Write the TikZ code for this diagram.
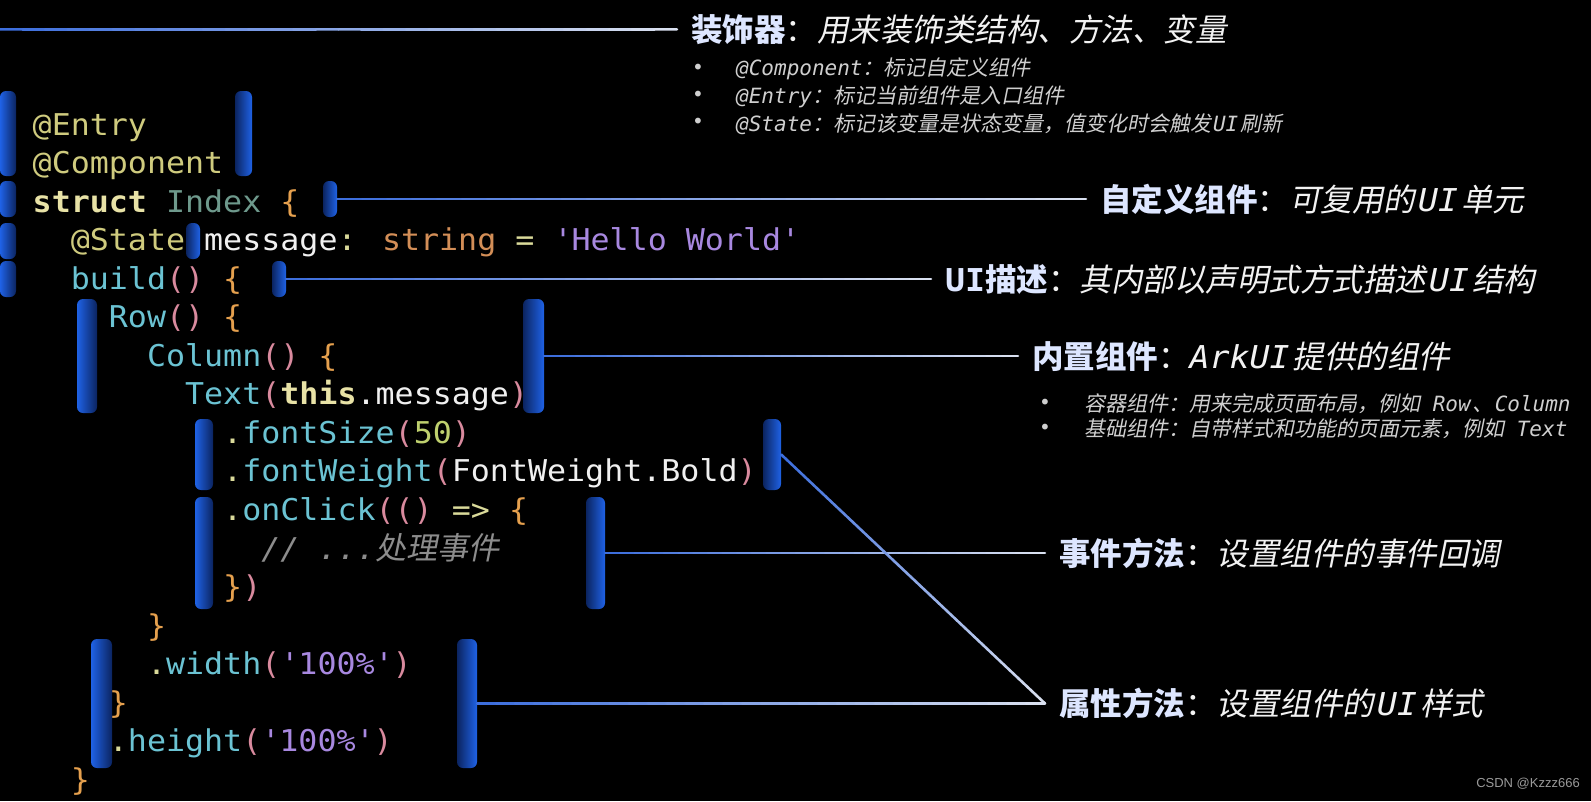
\documentclass[tikz,border=0pt]{standalone}
\usepackage{fontspec}
\usetikzlibrary{calc}
\newfontfamily\codefont{DejaVu Sans Mono}[FakeStretch=1.055]
\newfontfamily\subfont{DejaVu Sans Mono}
\newfontfamily\cjk{Noto Sans CJK SC}
\newfontfamily\cjksl{Noto Sans CJK SC}[FakeSlant=0.2]
\newfontfamily\wmfont{Liberation Sans}
\newfontfamily\dotfont{DejaVu Sans}
\definecolor{cdeco}{HTML}{CFCB7E}
\definecolor{ckey}{HTML}{E8E2A6}
\definecolor{ctype}{HTML}{6E998C}
\definecolor{cbrace}{HTML}{E5A04E}
\definecolor{cparen}{HTML}{D98A9E}
\definecolor{cfunc}{HTML}{6BC3D3}
\definecolor{cstr}{HTML}{A888E0}
\definecolor{cstrtype}{HTML}{D38E57}
\definecolor{cnum}{HTML}{BFD06E}
\definecolor{cplain}{HTML}{F0F0F0}
\definecolor{cop}{HTML}{DADA9A}
\definecolor{ccomment}{HTML}{8C8C8C}
\definecolor{barB}{HTML}{1F62E6}
\definecolor{barD}{HTML}{0B2460}
\definecolor{lnB}{HTML}{3A6CDC}
\definecolor{lnL}{HTML}{DCE2F0}
\definecolor{lblB}{HTML}{DDE6FF}
\definecolor{lblW}{HTML}{F2F2F2}
\definecolor{subgray}{HTML}{CFCFCF}
\definecolor{wmgray}{HTML}{9A9A9A}
\newcommand\q{\textquotesingle}
\newcommand\gradconn[2]{%
  \foreach \k in {0,...,29}{%
    \pgfmathsetmacro\pa{\k/30}%
    \pgfmathsetmacro\pb{(\k+1)/30}%
    \pgfmathsetmacro\pc{100*(\k+0.5)/30}%
    \draw[conn, color=lnL!\pc!lnB] ($#1!\pa!#2$) -- ($#1!\pb!#2$);
  }}
\newcommand\codeln[4]{\node[code] (#1) at ({32.5+19.05*#2},{135+38.55*#3}) {#4};}
\tikzset{
  code/.style={anchor=base west, inner sep=0pt, font=\codefont\fontsize{30}{36}\selectfont},
  lbar/.style={rectangle, rounded corners=6pt, left color=barB, right color=barD, inner sep=0pt},
  rbar/.style={rectangle, rounded corners=6pt, left color=barD, right color=barB, inner sep=0pt},
  lbl/.style={anchor=west, inner xsep=14pt, inner ysep=0pt, font=\fontsize{31.5}{36}\selectfont},
  sub/.style={anchor=west, inner sep=0pt, font=\fontsize{21}{25}\selectfont, text=subgray},
  bul/.style={inner sep=0pt, font=\dotfont\fontsize{20}{22}\selectfont, text=subgray},
  conn/.style={line width=2.6pt, line cap=round},
}
\begin{document}
\begin{tikzpicture}[x=1pt, y=-1pt]
\fill[black] (0,0) rectangle (1591,801);
\useasboundingbox (0,0) rectangle (1591,801);

% code
\codeln{c0}{0}{0}{\color{cdeco}@Entry}
\codeln{c1}{0}{1}{\color{cdeco}@Component}
\codeln{c2}{0}{2}{{\bfseries\color{ckey}struct} \color{ctype}Index \color{cbrace}\{}
\codeln{c3}{2}{3}{\color{cdeco}@State \color{cplain}message\color{cop}: \color{cstrtype}string \color{cop}= \color{cstr}\q Hello World\q}
\codeln{c4}{2}{4}{\color{cfunc}build\color{cparen}() \color{cbrace}\{}
\codeln{c5}{4}{5}{\color{cfunc}Row\color{cparen}() \color{cbrace}\{}
\codeln{c6}{6}{6}{\color{cfunc}Column\color{cparen}() \color{cbrace}\{}
\codeln{c7}{8}{7}{\color{cfunc}Text\color{cparen}({\bfseries\color{ckey}this}\color{cplain}.message\color{cparen})}
\codeln{c8}{10}{8}{\color{cop}.\color{cfunc}fontSize\color{cparen}(\color{cnum}50\color{cparen})}
\codeln{c9}{10}{9}{\color{cop}.\color{cfunc}fontWeight\color{cparen}(\color{cplain}FontWeight.Bold\color{cparen})}
\codeln{c10}{10}{10}{\color{cop}.\color{cfunc}onClick\color{cparen}(() \color{cop}=> \color{cbrace}\{}
\codeln{c11}{12}{11}{\color{ccomment}{\itshape // ...}{\cjksl\fontsize{31}{36}\selectfont 处理事件}}
\codeln{c12}{10}{12}{\color{cbrace}\}\color{cparen})}
\codeln{c13}{6}{13}{\color{cbrace}\}}
\codeln{c14}{6}{14}{\color{cop}.\color{cfunc}width\color{cparen}(\color{cstr}\q 100\%\q\color{cparen})}
\codeln{c15}{4}{15}{\color{cbrace}\}}
\codeln{c16}{4}{16}{\color{cop}.\color{cfunc}height\color{cparen}(\color{cstr}\q 100\%\q\color{cparen})}
\codeln{c17}{2}{17}{\color{cbrace}\}}

% bars
\node[lbar, minimum width=16pt, minimum height=85pt] (B1L) at (8,133.5) {};
\node[rbar, minimum width=17pt, minimum height=85pt] (B1R) at (243.5,133.5) {};
\node[lbar, minimum width=16pt, minimum height=36pt] (B2L) at (8,199) {};
\node[rbar, minimum width=14pt, minimum height=36pt] (B2R) at (330,199) {};
\node[lbar, minimum width=16pt, minimum height=36pt] (B3L) at (8,241) {};
\node[rbar, minimum width=14pt, minimum height=36pt] (B3R) at (193,241) {};
\node[lbar, minimum width=16pt, minimum height=36pt] (B4L) at (8,279) {};
\node[rbar, minimum width=14pt, minimum height=36pt] (B4R) at (279,279) {};
\node[lbar, minimum width=20pt, minimum height=114pt] (B5L) at (87,356) {};
\node[rbar, minimum width=21pt, minimum height=114pt] (B5R) at (533.5,356) {};
\node[lbar, minimum width=18pt, minimum height=71pt] (B6L) at (204,454.5) {};
\node[rbar, minimum width=18pt, minimum height=71pt] (B6R) at (772,454.5) {};
\node[lbar, minimum width=18pt, minimum height=112pt] (B7L) at (204,553) {};
\node[rbar, minimum width=19pt, minimum height=112pt] (B7R) at (595.5,553) {};
\node[lbar, minimum width=21pt, minimum height=129pt] (B8L) at (101.5,703.5) {};
\node[rbar, minimum width=20pt, minimum height=129pt] (B8R) at (467,703.5) {};

% labels
\node[lbl] (L0) at (677,29.4) {{\cjk\bfseries\color{lblB}装饰器}{\cjk\color{lblW}：}{\cjksl\color{lblW}用来装饰类结构、方法、变量}};
\node[lbl] (L2) at (1086,199) {{\cjk\bfseries\color{lblB}自定义组件}{\cjk\color{lblW}：}{\color{lblW}{\cjksl 可复用的}\kern3pt{\codefont\itshape UI}\kern3pt{\cjksl 单元}}};
\node[lbl] (L4) at (931,279) {{\color{lblB}{\codefont\bfseries UI}{\cjk\bfseries 描述}}{\cjk\color{lblW}：}{\color{lblW}{\cjksl 其内部以声明式方式描述}\kern3pt{\codefont\itshape UI}\kern3pt{\cjksl 结构}}};
\node[lbl] (L5) at (1018,356) {{\cjk\bfseries\color{lblB}内置组件}{\cjk\color{lblW}：}{\color{lblW}{\codefont\itshape ArkUI}\kern3pt{\cjksl 提供的组件}}};
\node[lbl] (L7) at (1045,553) {{\cjk\bfseries\color{lblB}事件方法}{\cjk\color{lblW}：}{\cjksl\color{lblW}设置组件的事件回调}};
\node[lbl] (L8) at (1045,703.5) {{\cjk\bfseries\color{lblB}属性方法}{\cjk\color{lblW}：}{\color{lblW}{\cjksl 设置组件的}\kern3pt{\codefont\itshape UI}\kern3pt{\cjksl 样式}}};

% sub bullets
\node[bul] (d1) at (698,69) {•};
\node[bul] (d2) at (698,96.4) {•};
\node[bul] (d3) at (698,123.8) {•};
\node[sub] (s1) at (736,69) {{\subfont\itshape @Component}{\cjksl ：标记自定义组件}};
\node[sub] (s2) at (736,96.4) {{\subfont\itshape @Entry}{\cjksl ：标记当前组件是入口组件}};
\node[sub] (s3) at (736,123.8) {{\subfont\itshape @State}{\cjksl ：标记该变量是状态变量，值变化时会触发}\kern2pt{\subfont\itshape UI}\kern2pt{\cjksl 刷新}};
\node[bul] (d4) at (1045,404) {•};
\node[bul] (d5) at (1045,429) {•};
\node[sub] (s4) at (1084,404) {{\cjksl 容器组件：用来完成页面布局，例如}{\subfont\itshape{} Row}\kern2pt{\cjksl 、}\kern1pt{\subfont\itshape Column}};
\node[sub] (s5) at (1084,429) {{\cjksl 基础组件：自带样式和功能的页面元素，例如}{\subfont\itshape{} Text}};

% connectors
\coordinate (T0) at (0,29.4);
\gradconn{(T0)}{(L0.west)}
\gradconn{(B2R.east)}{(L2.west)}
\gradconn{(B4R.east)}{(L4.west)}
\gradconn{(B5R.east)}{(L5.west)}
\gradconn{(B7R.east)}{(L7.west)}
\gradconn{(B8R.east)}{(L8.west)}
\gradconn{(B6R.east)}{(L8.west)}

% watermark
\node[inner sep=0pt, font=\wmfont\fontsize{13}{15}\selectfont, text=wmgray] (wm) at (1528,784) {CSDN @Kzzz666};
\end{tikzpicture}
\end{document}
